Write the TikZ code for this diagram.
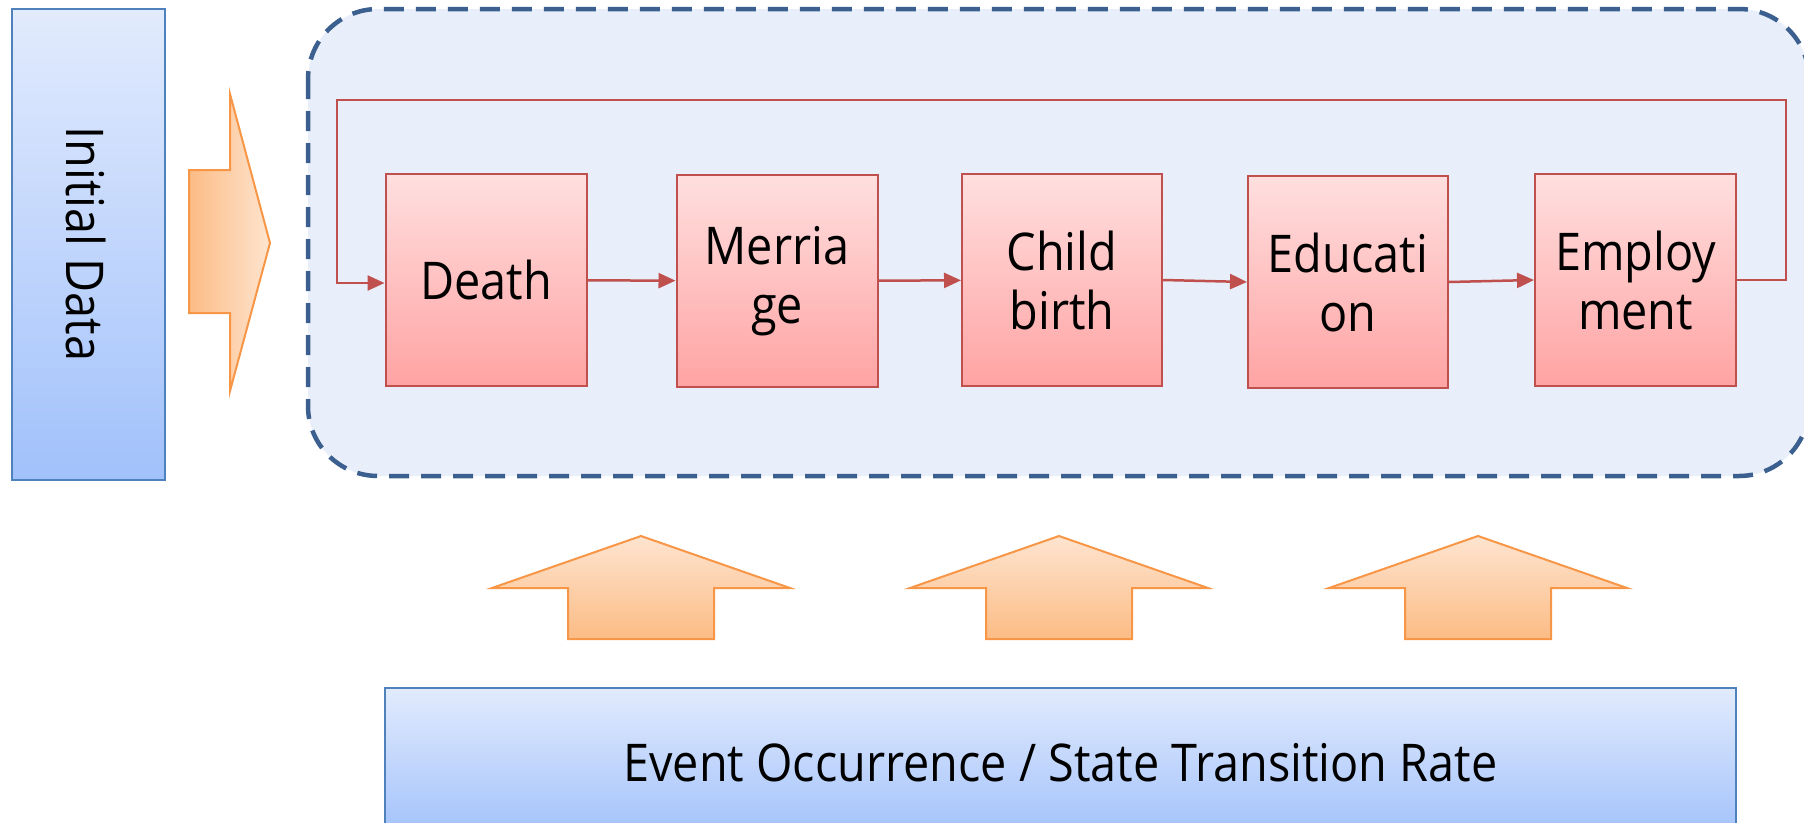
\documentclass[tikz,border=0pt]{standalone}
\usepackage{fontspec}
\setmainfont{Open Sans}[FakeStretch=0.9]
\usetikzlibrary{arrows.meta}

\definecolor{blueTop}{HTML}{E2EBFD}
\definecolor{blueBot}{HTML}{A1C1FB}
\definecolor{blueLine}{HTML}{4F81BD}
\definecolor{redTop}{HTML}{FFDFDF}
\definecolor{redBot}{HTML}{FFA3A3}
\definecolor{redLine}{HTML}{C0504D}
\definecolor{orLight}{HTML}{FEE4CF}
\definecolor{orDark}{HTML}{FCBC85}
\definecolor{orLine}{HTML}{F79646}
\definecolor{panelFill}{HTML}{E8EFFA}
\definecolor{panelLine}{HTML}{3B5F8E}

\tikzset{
  bluebox/.style={draw=blueLine, line width=2pt, top color=blueTop, bottom color=blueBot, inner sep=0pt},
  eventbox/.style={draw=redLine, line width=2pt, top color=redTop, bottom color=redBot,
    minimum width=201pt, minimum height=212pt, align=center, inner sep=0pt,
    font=\fontsize{52}{59}\selectfont},
  flowline/.style={draw=redLine, line width=2.5pt, -{Triangle[length=17pt,width=15pt]}},
  bigarrow/.style={draw=orLine, line width=2pt, line join=miter},
  panel/.style={draw=panelLine, fill=panelFill, line width=4.5pt, dash pattern=on 20pt off 12pt, rounded corners=70pt},
  label/.style={font=\fontsize{52}{59}\selectfont, inner sep=0pt}
}

\begin{document}
\begin{tikzpicture}[x=1pt,y=-1pt]
  \useasboundingbox (0,0) rectangle (1804,822);
  \clip (0,0) rectangle (1804,822);

  % input data column
  \node[bluebox, minimum width=153pt, minimum height=471pt] (init) at (88,244.5) {};
  \node[label, rotate=-90] (initlbl) at (86,244) {Initial Data};

  % arrow feeding the simulation panel
  \shade[bigarrow, left color=orDark, right color=orLight]
    (189,170) -- (230,170) -- (230,94) -- (270,243) -- (230,391) -- (230,313) -- (189,313) -- cycle;

  % simulation panel (its right side runs just past the page edge)
  \draw[panel] (308,9) rectangle (1809,476);

  % life events
  \node[eventbox] (death) at (486,280)   {Death};
  \node[eventbox] (marr)  at (777,281)   {Merria\\ge};
  \node[eventbox, minimum width=200pt] (birth) at (1062,280)  {Child\\birth};
  \node[eventbox, minimum width=200pt] (edu)   at (1348,282)  {Educati\\on};
  \node[eventbox] (emp)   at (1635.5,280) {Employ\\ment};

  \draw[flowline] (death) -- (marr);
  \draw[flowline] (marr) -- (birth);
  \draw[flowline] (birth.east) -- (edu.west);
  \draw[flowline] (edu.east) -- (emp.west);

  % feedback loop back to the first event
  \coordinate (loopR) at (1786,100);
  \coordinate (loopL) at (337,100);
  \coordinate (loopIn) at (337,283);
  \draw[flowline] (emp.east) -| (loopR) -- (loopL) -- (loopIn) -- (death.west |- loopIn);

  % rate arrows
  \foreach \c in {641,1059,1478}{
    \shade[bigarrow, top color=orLight, bottom color=orDark]
      (\c-73,639) -- (\c-73,588) -- (\c-149,588) -- (\c,536) -- (\c+149,588) -- (\c+73,588) -- (\c+73,639) -- cycle;
  }

  % rates source
  \node[bluebox, minimum width=1351pt, minimum height=150pt, font=\fontsize{52}{59}\selectfont]
    (rate) at (1060.5,763) {Event Occurrence / State Transition Rate};
\end{tikzpicture}
\end{document}
